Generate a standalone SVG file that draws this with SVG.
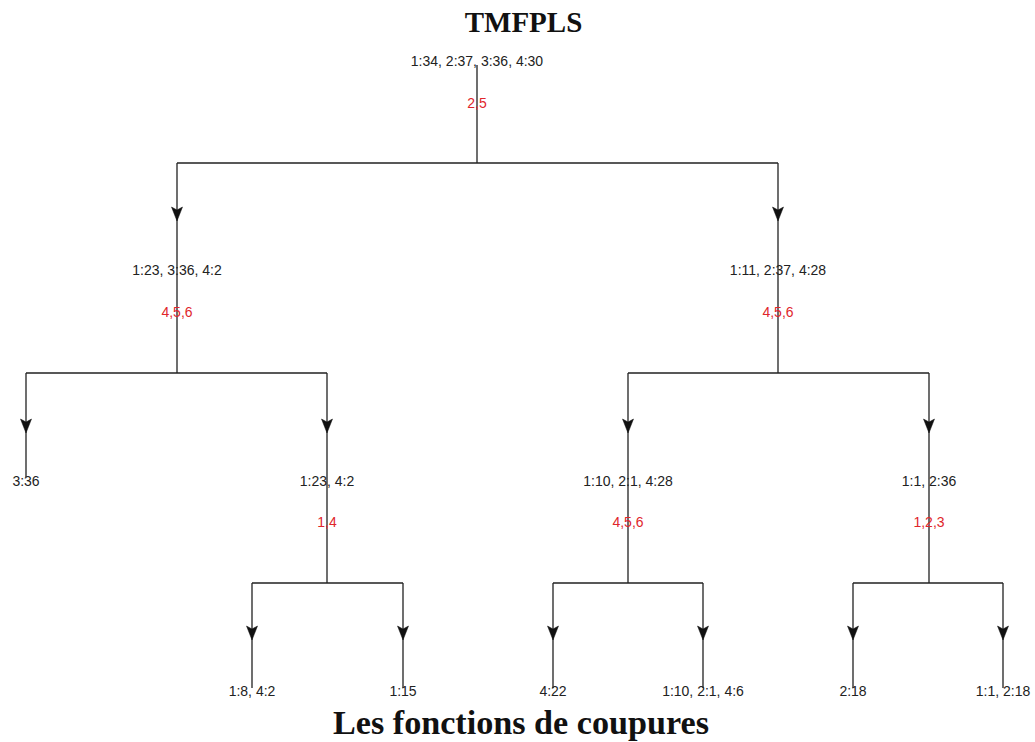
<svg xmlns="http://www.w3.org/2000/svg" xmlns:xlink="http://www.w3.org/1999/xlink" width="1035" height="742" viewBox="0 0 1035 742">
  <style>
    .t { font-family: "Liberation Serif", "DejaVu Serif", serif; font-weight: bold; fill: #111; text-anchor: middle; }
    .lbl { font-family: "Liberation Sans", Arial, sans-serif; font-size: 14px; fill: #222; text-anchor: middle; }
    .cut { font-family: "Liberation Sans", Arial, sans-serif; font-size: 14px; fill: #e0262b; text-anchor: middle; }
    .ln { fill: none; stroke: #222; stroke-width: 1.3; }
    .ah { fill: #111; stroke: #111; stroke-width: 0.5; stroke-linejoin: miter; }
  </style>
  <defs>
    <path id="ah" class="ah" d="M0,0 L-5.5,-14 L0,-11 L5.5,-14 Z"/>
  </defs>
  <rect width="1035" height="742" fill="#ffffff"/>
  <text class="t" x="523.5" y="32" font-size="29">TMFPLS</text>
  <text class="t" x="521" y="734" font-size="33" textLength="376" lengthAdjust="spacingAndGlyphs">Les fonctions de coupures</text>

  <g id="connectors">
    <path class="ln" d="M477,65 V163 M177,163 H778 M177,163 V373 M778,163 V373"/>
    <path class="ln" d="M26,373 H327 M26,373 V477 M327,373 V583"/>
    <path class="ln" d="M628,373 H929 M628,373 V583 M929,373 V583"/>
    <path class="ln" d="M252,583 H403 M252,583 V688 M403,583 V688"/>
    <path class="ln" d="M553,583 H703 M553,583 V688 M703,583 V688"/>
    <path class="ln" d="M853,583 H1003 M853,583 V688 M1003,583 V688"/>
    <use xlink:href="#ah" x="177" y="221"/>
    <use xlink:href="#ah" x="778" y="221"/>
    <use xlink:href="#ah" x="26" y="433"/>
    <use xlink:href="#ah" x="327" y="433"/>
    <use xlink:href="#ah" x="628" y="433"/>
    <use xlink:href="#ah" x="929" y="433"/>
    <use xlink:href="#ah" x="252" y="640"/>
    <use xlink:href="#ah" x="403" y="640"/>
    <use xlink:href="#ah" x="553" y="640"/>
    <use xlink:href="#ah" x="703" y="640"/>
    <use xlink:href="#ah" x="853" y="640"/>
    <use xlink:href="#ah" x="1003" y="640"/>
  </g>

  <g id="n-root">
    <text class="lbl" x="477" y="66">1:34, 2:37, 3:36, 4:30</text>
    <text class="cut" x="477" y="108">2,5</text>
  </g>
  <g id="n-l">
    <text class="lbl" x="177" y="275">1:23, 3:36, 4:2</text>
    <text class="cut" x="177" y="317">4,5,6</text>
  </g>
  <g id="n-r">
    <text class="lbl" x="778" y="275">1:11, 2:37, 4:28</text>
    <text class="cut" x="778" y="317">4,5,6</text>
  </g>
  <g id="n-ll">
    <text class="lbl" x="26" y="486">3:36</text>
  </g>
  <g id="n-lr">
    <text class="lbl" x="327" y="486">1:23, 4:2</text>
    <text class="cut" x="327" y="527">1,4</text>
  </g>
  <g id="n-rl">
    <text class="lbl" x="628" y="486">1:10, 2:1, 4:28</text>
    <text class="cut" x="628" y="527">4,5,6</text>
  </g>
  <g id="n-rr">
    <text class="lbl" x="929" y="486">1:1, 2:36</text>
    <text class="cut" x="929" y="527">1,2,3</text>
  </g>
  <g id="n-lrl"><text class="lbl" x="252" y="696">1:8, 4:2</text></g>
  <g id="n-lrr"><text class="lbl" x="403" y="696">1:15</text></g>
  <g id="n-rll"><text class="lbl" x="553" y="696">4:22</text></g>
  <g id="n-rlr"><text class="lbl" x="703" y="696">1:10, 2:1, 4:6</text></g>
  <g id="n-rrl"><text class="lbl" x="853" y="696">2:18</text></g>
  <g id="n-rrr"><text class="lbl" x="1003" y="696">1:1, 2:18</text></g>
</svg>
